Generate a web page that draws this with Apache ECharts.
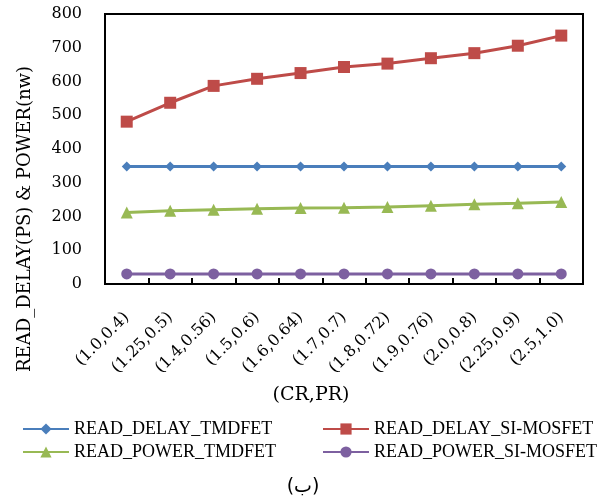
<!DOCTYPE html>
<html>
<head>
<meta charset="utf-8">
<script src="https://cdn.jsdelivr.net/npm/echarts@6/dist/echarts.min.js"></script>
<style>
html,body{margin:0;padding:0;background:#fff;}
#chart{width:601px;height:499px;}
</style>
</head>
<body>
<div id="chart"></div>
<script>
const categories = ['(1.0,0.4)','(1.25,0.5)','(1.4,0.56)','(1.5,0.6)','(1.6,0.64)','(1.7,0.7)','(1.8,0.72)','(1.9,0.76)','(2.0,0.8)','(2.25,0.9)','(2.5,1.0)'];
const readDelayTmdfet = [348,348,348,348,348,348,348,348,348,348,348];
const readDelaySiMosfet = [481,537,587,608,625,643,653,669,684,706,736];
const readPowerTmdfet = [212,217,220,223,225,226,228,232,236,239,243];
const readPowerSiMosfet = [30,30,30,30,30,30,30,30,30,30,30];

const serif = 'DejaVu Serif';
const narrow = 'Liberation Serif';
const chart = echarts.init(document.getElementById('chart'));

function series(name, data, color, symbol, size) {
  return {
    name, type: 'line', data, symbol, symbolSize: size,
    itemStyle: { color },
    lineStyle: { color, width: 3 },
    emphasis: { disabled: true }
  };
}

chart.setOption({
  animation: false,
  textStyle: { fontFamily: serif, color: '#000' },
  grid: { left: 105, right: 18, top: 14, bottom: 215, show: true, borderColor: '#000', borderWidth: 2, backgroundColor: 'transparent' },
  xAxis: {
    type: 'category', data: categories, boundaryGap: true,
    axisLine: { lineStyle: { color: '#000', width: 2 } },
    axisTick: { show: true, inside: true, length: 6, lineStyle: { color: '#000', width: 2 } },
    axisLabel: { rotate: 45, fontFamily: serif, fontSize: 16, color: '#000', margin: 31, interval: 0 }
  },
  yAxis: {
    type: 'value', min: 0, max: 800, interval: 100,
    axisLine: { show: true, lineStyle: { color: '#000', width: 2 } },
    axisTick: { show: false },
    splitLine: { show: false },
    axisLabel: { fontFamily: serif, fontSize: 16, color: '#000', margin: 23 }
  },
  legend: [
    {
      data: ['READ_DELAY_TMDFET', 'READ_POWER_TMDFET'],
      orient: 'vertical', left: 17, top: 415, itemGap: 5, itemWidth: 46, itemHeight: 14, padding: 5,
      textStyle: { fontFamily: narrow, fontSize: 18, color: '#000' }
    },
    {
      data: ['READ_DELAY_SI-MOSFET', 'READ_POWER_SI-MOSFET'],
      orient: 'vertical', left: 317, top: 415, itemGap: 5, itemWidth: 46, itemHeight: 14, padding: 5,
      textStyle: { fontFamily: narrow, fontSize: 18, color: '#000' }
    }
  ],
  graphic: [
    {
      type: 'text', x: 25, y: 219, rotation: Math.PI / 2,
      style: { text: 'READ_DELAY(PS) & POWER(nw)', font: '18px "DejaVu Serif"', fill: '#000', align: 'center', verticalAlign: 'middle' }
    },
    {
      type: 'text', x: 311, y: 395,
      style: { text: '(CR,PR)', font: '19px "DejaVu Serif"', fill: '#000', align: 'center', verticalAlign: 'middle' }
    },
    {
      type: 'text', x: 303, y: 487,
      style: { text: '(ب)', font: '19px "DejaVu Sans"', fill: '#000', align: 'center', verticalAlign: 'middle' }
    }
  ],
  series: [
    series('READ_DELAY_TMDFET', readDelayTmdfet, '#4a7ebb', 'diamond', 10),
    series('READ_DELAY_SI-MOSFET', readDelaySiMosfet, '#be4b48', 'rect', 12),
    series('READ_POWER_TMDFET', readPowerTmdfet, '#98b954', 'triangle', 12),
    series('READ_POWER_SI-MOSFET', readPowerSiMosfet, '#7d60a0', 'circle', 11)
  ]
});
</script>
</body>
</html>
